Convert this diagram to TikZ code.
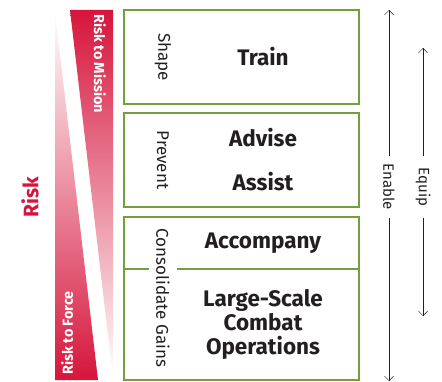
\documentclass[tikz,border=0pt]{standalone}
\usepackage{fontspec}
\setmainfont{Fira Sans}
\usetikzlibrary{arrows.meta}
\definecolor{riskred}{RGB}{214,21,60}
\definecolor{boxgreen}{RGB}{115,160,60}
\definecolor{ink}{RGB}{35,31,32}

\begin{document}
\begin{tikzpicture}[x=1pt, y=-1pt, >={Straight Barb[length=4.5pt, width=9pt]},
    box/.style={draw=boxgreen, line width=1.1pt, minimum width=235pt, inner sep=0pt},
    task/.style={font=\fontsize{22.5}{24}\selectfont\bfseries, text=ink, align=center},
    phase/.style={font=\fontsize{17}{18}\selectfont, text=ink, rotate=-90},
    wedgelabel/.style={font=\fontsize{14.5}{16}\selectfont\bfseries, text=white, inner sep=0pt},
    support/.style={font=\fontsize{15}{18}\selectfont, text=ink, rotate=-90, minimum width=61pt, inner sep=0pt}]
    \useasboundingbox (0,0) rectangle (442,382);

    % risk wedges
    \shade[top color=riskred, middle color=riskred!55, bottom color=white] (70,10) -- (113,10) -- (113,378) -- cycle;
    \shade[top color=white, middle color=riskred!55, bottom color=riskred] (55,12) -- (98,380) -- (55,380) -- cycle;
    \node (mission) at (100,14) [wedgelabel, rotate=-90, anchor=west] {Risk to Mission};
    \node (force) at (67,375) [wedgelabel, rotate=90, anchor=west] {Risk to Force};
    \node (risk) at (30,197) [rotate=90, text=riskred, font=\fontsize{21}{24}\selectfont\bfseries] {Risk};

    % phase boxes
    \node (shapebox) at (241.5,57) [box, minimum height=94pt] {};
    \node (preventbox) at (241.5,160) [box, minimum height=94pt] {};
    \node (gainsbox) at (241.5,298.5) [box, minimum height=163pt] {};
    \coordinate (split) at (0,269);
    \draw[boxgreen, line width=1.1pt] (gainsbox.west |- split) -- (gainsbox.east |- split);

    \node (shape) at (163,57) [phase] {Shape};
    \node (prevent) at (163,160) [phase] {Prevent};
    \node (gains) at (163,298) [phase, fill=white, inner ysep=7pt, inner xsep=0pt] {Consolidate Gains};

    \node (train) at (263,57) [task] {Train};
    \node (advise) at (263,138) [task] {Advise};
    \node (assist) at (263,182) [task] {Assist};
    \node (accompany) at (263,243) [task] {Accompany};
    \node (lsco) at (263,324) [task] {Large-Scale\\Combat\\Operations};

    % enable / equip arrows
    \node (enable) at (389,187) [support] {Enable};
    \node (equip) at (423,187) [support] {Equip};
    \coordinate (enabletop) at (389,10);
    \coordinate (enablebot) at (389,381);
    \coordinate (equiptop) at (423,48);
    \coordinate (equipbot) at (423,316);
    \draw[->, ink] (enable.west) -- (enabletop);
    \draw[->, ink] (enable.east) -- (enablebot);
    \draw[->, ink] (equip.west) -- (equiptop);
    \draw[->, ink] (equip.east) -- (equipbot);
\end{tikzpicture}
\end{document}
